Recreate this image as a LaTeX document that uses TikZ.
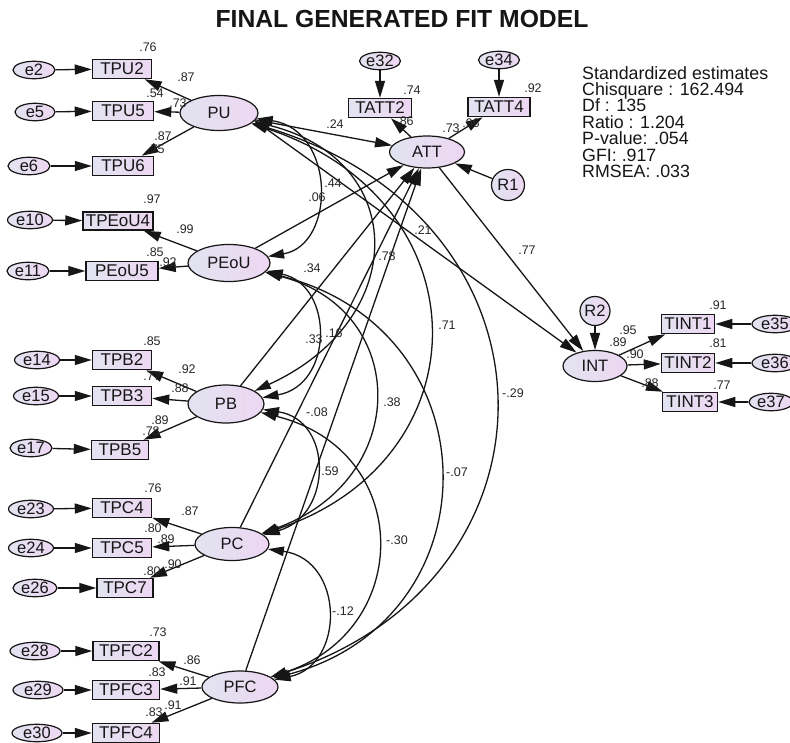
\documentclass[tikz,border=0pt]{standalone}
\usepackage{fontspec}
\setmainfont{Liberation Sans}
\usetikzlibrary{shapes.geometric,arrows.meta}
\definecolor{fillL}{RGB}{226,227,240}
\definecolor{fillR}{RGB}{237,215,242}
\definecolor{ink}{RGB}{22,22,22}
\definecolor{numink}{RGB}{40,40,40}
\begin{document}
\begin{tikzpicture}[x=1pt,y=-1pt,
  fs/.style={font=\fontsize{#1}{#1}\selectfont},
  obsbox/.style={draw=ink, line width=1.5pt, left color=fillL, right color=fillR,
    minimum height=19pt, inner sep=0pt, fs=17, text=ink, minimum width=#1},
  latent/.style={ellipse, draw=ink, line width=1.2pt, left color=fillL, right color=fillR,
    inner sep=0pt, fs=16.5, text=ink},
  errnode/.style={ellipse, draw=ink, line width=1.2pt, left color=fillL, right color=fillR,
    inner sep=0pt, fs=16.5, text=ink, minimum height=17.5pt, minimum width=#1},
  num/.style={fs=12.5, text=numink, inner sep=0pt},
  stat/.style={fs=17.8, text=ink, inner sep=0pt, anchor=base west},
  reg/.style={draw=ink, line width=1.3pt, -{Triangle[length=17pt,width=10pt]}},
  cov/.style={draw=ink, line width=1.3pt, {Triangle[length=16pt,width=9.5pt]}-{Triangle[length=16pt,width=9.5pt]}}
]
\useasboundingbox[fill=white] (0,0) rectangle (790,742);

% heading and fit statistics
\node[font=\bfseries\fontsize{24.7}{25}\selectfont, text=ink] (title) at (402,19) {FINAL GENERATED FIT MODEL};
\node[stat] (s1) at (582,79.0) {Standardized estimates};
\node[stat] (s2) at (582,95.4) {Chisquare : 162.494};
\node[stat] (s3) at (582,111.8) {Df : 135};
\node[stat] (s4) at (582,128.2) {Ratio : 1.204};
\node[stat] (s5) at (582,144.6) {P-value: .054};
\node[stat] (s6) at (582,161.0) {GFI: .917};
\node[stat] (s7) at (582,177.4) {RMSEA: .033};

% latent constructs
\node[latent, minimum width=78pt, minimum height=35pt] (PU) at (219,113) {PU};
\node[latent, minimum width=75pt, minimum height=32pt] (ATT) at (427,152) {ATT};
\node[latent, minimum width=82pt, minimum height=37pt] (PEoU) at (229,263) {PEoU};
\node[latent, minimum width=76pt, minimum height=38pt] (PB) at (226,404) {PB};
\node[latent, minimum width=74pt, minimum height=33pt] (PC) at (232,544) {PC};
\node[latent, minimum width=76pt, minimum height=32pt] (PFC) at (240,687) {PFC};
\node[latent, minimum width=64pt, minimum height=31pt] (INT) at (595,366) {INT};
\node[latent, minimum width=33pt, minimum height=31pt] (R1) at (508,185) {R1};
\node[latent, minimum width=30pt, minimum height=29pt] (R2) at (595,311) {R2};

% observed indicators
\node[obsbox=59pt] (TPU2) at (122,69) {TPU2};
\node[obsbox=61pt] (TPU5) at (123,111) {TPU5};
\node[obsbox=61pt] (TPU6) at (123,166) {TPU6};
\node[obsbox=70pt, minimum height=18pt] (TPEoU4) at (118,221) {TPEoU4};
\node[obsbox=72pt] (PEoU5) at (122,271) {PEoU5};
\node[obsbox=59pt] (TPB2) at (122,360) {TPB2};
\node[obsbox=59pt] (TPB3) at (122,396) {TPB3};
\node[obsbox=57pt] (TPB5) at (120,450) {TPB5};
\node[obsbox=59pt] (TPC4) at (122,508) {TPC4};
\node[obsbox=59pt] (TPC5) at (122,548) {TPC5};
\node[obsbox=56pt] (TPC7) at (125,588) {TPC7};
\node[obsbox=66pt] (TPFC2) at (126,651) {TPFC2};
\node[obsbox=67pt] (TPFC3) at (126,690) {TPFC3};
\node[obsbox=67pt] (TPFC4) at (126,733) {TPFC4};
\node[obsbox=63pt] (TATT2) at (380,108) {TATT2};
\node[obsbox=62pt] (TATT4) at (499,107) {TATT4};
\node[obsbox=53pt] (TINT1) at (688,324) {TINT1};
\node[obsbox=53pt] (TINT2) at (688,363) {TINT2};
\node[obsbox=55pt] (TINT3) at (690,402) {TINT3};

% measurement errors
\node[errnode=42pt] (e2) at (34,70) {e2};
\node[errnode=40pt] (e5) at (35,112) {e5};
\node[errnode=42pt] (e6) at (29,166) {e6};
\node[errnode=45pt] (e10) at (30,220) {e10};
\node[errnode=42pt] (e11) at (28,271) {e11};
\node[errnode=45pt] (e14) at (37,360) {e14};
\node[errnode=45pt] (e15) at (36,396) {e15};
\node[errnode=42pt] (e17) at (31,448) {e17};
\node[errnode=45pt] (e23) at (31,509) {e23};
\node[errnode=45pt] (e24) at (31,548) {e24};
\node[errnode=44pt] (e26) at (35,588) {e26};
\node[errnode=50pt] (e28) at (35,651) {e28};
\node[errnode=50pt] (e29) at (38,690) {e29};
\node[errnode=50pt] (e30) at (37,733) {e30};
\node[errnode=41pt] (e32) at (380,61) {e32};
\node[errnode=41pt] (e34) at (499,60) {e34};
\node[errnode=46pt] (e35) at (775,324) {e35};
\node[errnode=46pt] (e36) at (775,363) {e36};
\node[errnode=44pt] (e37) at (771,402) {e37};

% error terms into indicators
\foreach \e/\v in {e2/TPU2,e5/TPU5,e6/TPU6,e10/TPEoU4,e11/PEoU5,e14/TPB2,e15/TPB3,e17/TPB5,
  e23/TPC4,e24/TPC5,e26/TPC7,e28/TPFC2,e29/TPFC3,e30/TPFC4,e32/TATT2,e34/TATT4,
  e35/TINT1,e36/TINT2,e37/TINT3}
  \draw[reg] (\e) -- (\v);

% loadings
\foreach \f/\v in {PU/TPU2,PU/TPU5,PU/TPU6,PEoU/TPEoU4,PEoU/PEoU5,PB/TPB2,PB/TPB3,PB/TPB5,
  PC/TPC4,PC/TPC5,PC/TPC7,PFC/TPFC2,PFC/TPFC3,PFC/TPFC4,ATT/TATT2,ATT/TATT4,
  INT/TINT1,INT/TINT2,INT/TINT3}
  \draw[reg] (\f) -- (\v);

% structural paths
\draw[reg] (PU) -- (ATT);
\draw[reg] (PEoU) -- (ATT);
\draw[reg] (PB) -- (ATT);
\draw[reg] (PC) -- (ATT);
\draw[reg] (PFC) -- (ATT);
\draw[reg] (PU.-12) -- (INT);
\draw[reg] (ATT) -- (INT);
\draw[reg] (R1) -- (ATT);
\draw[reg] (R2) -- (INT);

% correlations among exogenous constructs
\draw[cov] (PU) .. controls (336,130) and (336,245) .. (PEoU);
\draw[cov] (PU) .. controls (410,160) and (410,320) .. (PB);
\draw[cov] (PU) .. controls (486,200) and (486,460) .. (PC);
\draw[cov] (PU) .. controls (572,220) and (572,580) .. (PFC);
\draw[cov] (PEoU) .. controls (334,285) and (334,385) .. (PB);
\draw[cov] (PEoU) .. controls (411,310) and (411,480) .. (PC);
\draw[cov] (PEoU) .. controls (496,330) and (496,620) .. (PFC);
\draw[cov] (PB) .. controls (333,420) and (333,515) .. (PC);
\draw[cov] (PB) .. controls (414,450) and (414,630) .. (PFC);
\draw[cov] (PC) .. controls (345,560) and (345,665) .. (PFC);

% loading estimates and squared multiple correlations
\node[num] (r1) at (148,47) {.76};
\node[num] (r2) at (186,77) {.87};
\node[num] (r3) at (155,93) {.54};
\node[num] (r4) at (178,103) {.73};
\node[num] (r5) at (163,136) {.87};
\node[num] (r6) at (156,149) {.75};
\node[num] (r7) at (152,199) {.97};
\node[num] (r8) at (185,229) {.99};
\node[num] (r9) at (155,252) {.85};
\node[num] (r10) at (168,262) {.92};
\node[num] (r11) at (152,341) {.85};
\node[num] (r12) at (187,369) {.92};
\node[num] (r13) at (152,376) {.77};
\node[num] (r14) at (180,388) {.88};
\node[num] (r15) at (160,420) {.89};
\node[num] (r16) at (151,431) {.78};
\node[num] (r17) at (153,488) {.76};
\node[num] (r18) at (190,511) {.87};
\node[num] (r19) at (153,528) {.80};
\node[num] (r20) at (166,539) {.89};
\node[num] (r21) at (152,571) {.80};
\node[num] (r22) at (173,564) {.90};
\node[num] (r23) at (158,632) {.73};
\node[num] (r24) at (192,660) {.86};
\node[num] (r25) at (157,672) {.83};
\node[num] (r26) at (188,681) {.91};
\node[num] (r27) at (154,712) {.83};
\node[num] (r28) at (173,705) {.91};
\node[num] (a1) at (412,90) {.74};
\node[num] (a2) at (405,121) {.86};
\node[num] (a3) at (451,128) {.73};
\node[num] (a4) at (471,123) {.96};
\node[num] (a5) at (533,88) {.92};
\node[num] (i1) at (718,305) {.91};
\node[num] (i2) at (628,330) {.95};
\node[num] (i3) at (618,342) {.89};
\node[num] (i4) at (718,343) {.81};
\node[num] (i5) at (635,354) {.90};
\node[num] (i6) at (650,383) {.88};
\node[num] (i7) at (722,385) {.77};

% structural estimates and correlations
\node[num] (p1) at (335,124) {.24};
\node[num] (p2) at (333,183) {.44};
\node[num] (p3) at (317,197) {.06};
\node[num] (p4) at (423,230) {.21};
\node[num] (p5) at (527,250) {.77};
\node[num] (p6) at (387,256) {.78};
\node[num] (p7) at (312,268) {.34};
\node[num] (p8) at (314,339) {.33};
\node[num] (p9) at (334,333) {.16};
\node[num] (p10) at (447,325) {.71};
\node[num] (p11) at (392,402) {.38};
\node[num] (p12) at (317,412) {-.08};
\node[num] (p13) at (513,393) {-.29};
\node[num] (p14) at (330,471) {.59};
\node[num] (p15) at (457,472) {-.07};
\node[num] (p16) at (397,540) {-.30};
\node[num] (p17) at (343,611) {-.12};
\end{tikzpicture}
\end{document}
